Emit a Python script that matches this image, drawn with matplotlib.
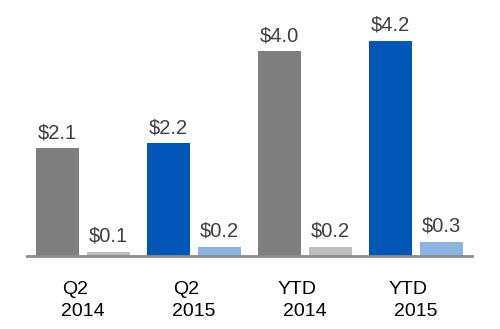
import numpy as np
import matplotlib
matplotlib.use("Agg")
import matplotlib.pyplot as plt

plt.rcParams['font.family'] = ['Liberation Sans', 'DejaVu Sans']

# data
periods = ['Q2', 'Q2', 'YTD', 'YTD']
years = ['2014', '2015', '2014', '2015']
main_vals = [2.1, 2.2, 4.0, 4.2]
main_labels = ['$2.1', '$2.2', '$4.0', '$4.2']
small_vals = [0.08, 0.18, 0.18, 0.28]
small_labels = ['$0.1', '$0.2', '$0.2', '$0.3']
main_colors = ['#7f7f7f', '#0057b8', '#7f7f7f', '#0057b8']
small_colors = ['#bfbfbf', '#8db3e2', '#bfbfbf', '#8db3e2']

fig = plt.figure(figsize=(5, 3.29), dpi=100)
ax = fig.add_axes([27.5 / 500, 73 / 329, 444 / 500, 256 / 329])

x = np.arange(len(periods))
off = 0.23
w = 0.387
b1 = ax.bar(x - off, main_vals, w, color=main_colors)
b2 = ax.bar(x + off, small_vals, w, color=small_colors)

for bars, labs in ((b1, main_labels), (b2, small_labels)):
    for r, lab in zip(bars, labs):
        ax.annotate(lab, (r.get_x() + r.get_width() / 2, r.get_height()),
                    xytext=(0, 7.2), textcoords='offset points',
                    ha='center', va='baseline', fontsize=14.5, color='#404040')

for xi, p, yr in zip(x, periods, years):
    ax.annotate(p, (xi, 0), xytext=(-6, -27.4), textcoords='offset points',
                ha='center', va='baseline', fontsize=14, color='black')
    ax.annotate(yr, (xi, 0), xytext=(0, -43.2), textcoords='offset points',
                ha='center', va='baseline', fontsize=14, color='black')

ax.set_xlim(-0.5, 3.5)
ax.set_ylim(0, 5)
for s in ['top', 'right', 'left']:
    ax.spines[s].set_visible(False)
ax.spines['bottom'].set_color('#8c8c8c')
ax.spines['bottom'].set_linewidth(2)
ax.set_xticks([])
ax.set_yticks([])

fig.savefig('out.png', dpi=100)
